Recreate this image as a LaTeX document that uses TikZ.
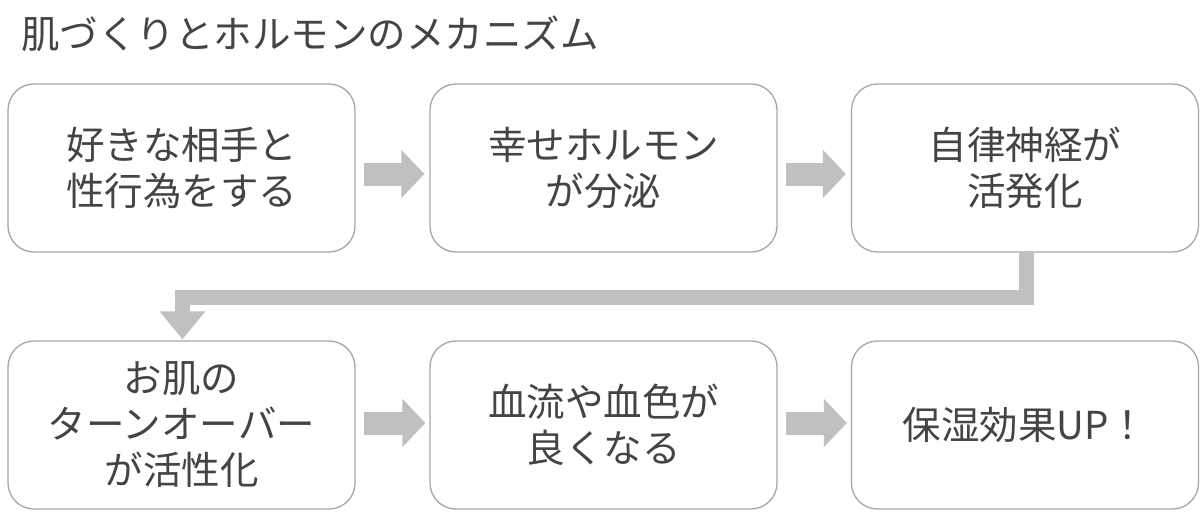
\documentclass[tikz,border=0pt]{standalone}
\usepackage{fontspec}
\setmainfont{Noto Sans CJK JP}
\usetikzlibrary{arrows.meta}
\definecolor{txt}{HTML}{444444}
\definecolor{boxline}{HTML}{A6A6A6}
\definecolor{arr}{HTML}{C0C0C0}
\tikzset{
  stepbox/.style={draw=boxline, line width=1.3pt, rounded corners=26pt, fill=white,
    minimum width=347pt, minimum height=168pt, align=center, text=txt,
    font=\fontsize{38.5}{46}\selectfont, inner sep=0pt},
  bigarrow/.style={draw=arr, line width=23pt,
    -{Triangle[width=47pt,length=23pt]}, shorten >=0pt},
  elbowarrow/.style={draw=arr, line width=15pt, line join=miter,
    -{Triangle[width=44pt,length=28pt]}},
}
\begin{document}
\begin{tikzpicture}[x=1pt,y=-1pt]
\useasboundingbox[fill=white] (0,0) rectangle (1200,519);
\node[anchor=west, text=txt, font=\fontsize{38.5}{42}\selectfont, inner sep=0pt] (title) at (21,34) {肌づくりとホルモンのメカニズム};
\node[stepbox] (b1) at (181.5,168) {好きな相手と\\性行為をする};
\node[stepbox] (b2) at (603.5,168) {幸せホルモン\\が分泌};
\node[stepbox] (b3) at (1025,168) {自律神経が\\活発化};
\node[stepbox] (b4) at (181.5,425) {お肌の\\ターンオーバー\\が活性化};
\node[stepbox] (b5) at (603.5,425) {血流や血色が\\良くなる};
\node[stepbox] (b6) at (1025,425) {保湿効果UP！};
\draw[bigarrow] ([shift={(8pt,-6pt)}]b1.east) -- ([shift={(-5pt,-6pt)}]b2.west);
\draw[bigarrow] ([shift={(8pt,-6pt)}]b2.east) -- ([shift={(-5pt,-6pt)}]b3.west);
\draw[bigarrow] ([shift={(8pt,2pt)}]b4.east) -- ([shift={(-4pt,2pt)}]b5.west);
\draw[bigarrow] ([shift={(8pt,2pt)}]b5.east) -- ([shift={(-4pt,2pt)}]b6.west);
\draw[elbowarrow] ([xshift=1pt]b3.south) -- ++(0,44.5) -| ([xshift=1pt,yshift=1pt]b4.north);
\end{tikzpicture}
\end{document}
